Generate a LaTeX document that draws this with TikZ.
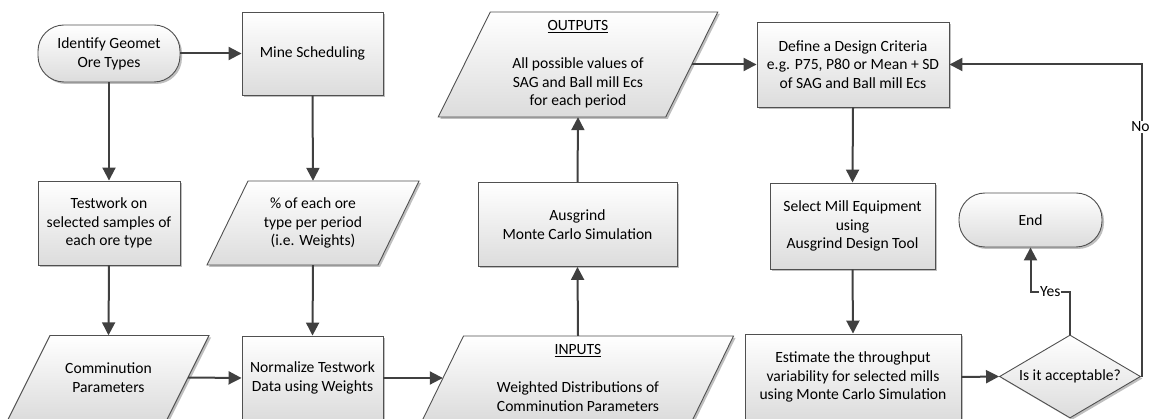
\documentclass[tikz,border=0pt]{standalone}
\usepackage{fontspec}
\setmainfont{Carlito}
\usetikzlibrary{arrows.meta,shapes.geometric,shadows,calc}
\definecolor{linecol}{HTML}{505050}
\definecolor{arrcol}{HTML}{404040}
\definecolor{shadebot}{HTML}{DCDCDC}
\tikzset{
  txt/.style={font=\fontsize{15.6}{18.7}\selectfont, align=center, inner sep=0pt},
  boxfill/.style={draw=linecol, line width=0.9pt, top color=white, bottom color=shadebot,
    drop shadow={shadow xshift=2pt, shadow yshift=-2pt, opacity=0.25, fill=black}},
  procbox/.style={txt, boxfill, rectangle},
  termbox/.style={txt, boxfill, rectangle, rounded corners=26pt},
  parabox/.style={txt, rectangle},
  decbox/.style={txt, boxfill, diamond, aspect=1.7},
  arr/.style={draw=arrcol, line width=2pt, -{Triangle[length=13pt,width=13pt]}},
  lbl/.style={fill=white, inner sep=1pt, font=\fontsize{15.6}{18}\selectfont},
}
% cx, cy, edge width, height, slant
\newcommand\paraoutline[5]{%
  \path[boxfill] ({#1-#3/2-#5/2},{#2+#4/2}) -- ({#1+#3/2-#5/2},{#2+#4/2})
    -- ({#1+#3/2+#5/2},{#2-#4/2}) -- ({#1-#3/2+#5/2},{#2-#4/2}) -- cycle;}
\begin{document}
\begin{tikzpicture}[x=1pt,y=-1pt]
\useasboundingbox (0,0) rectangle (1149,419);
\clip (0,0) rectangle (1149,419);

% terminals and process boxes
\node[termbox, minimum width=142pt, minimum height=57pt] (ident) at (109,53.5) {Identify Geomet\\Ore Types};
\node[procbox, minimum width=141pt, minimum height=83pt] (mine) at (312.5,53.5) {Mine Scheduling};
\node[procbox, minimum width=142pt, minimum height=84pt] (test) at (109,223) {Testwork on\\selected samples of\\each ore type};
\node[procbox, minimum width=141pt, minimum height=84pt] (norm) at (312.5,378) {Normalize Testwork\\Data using Weights};
\node[procbox, minimum width=199pt, minimum height=84pt] (ausg) at (577.5,224.5) {Ausgrind\\Monte Carlo Simulation};
\node[procbox, minimum width=192pt, minimum height=85pt] (def) at (853,64.5) {Define a Design Criteria\\e.g. P75, P80 or Mean + SD\\of SAG and Ball mill Ecs};
\node[procbox, minimum width=165pt, minimum height=86pt] (sel) at (852.5,226) {Select Mill Equipment\\using\\Ausgrind Design Tool};
\node[procbox, minimum width=216pt, minimum height=86pt] (est) at (853,377) {Estimate the throughput\\variability for selected mills\\using Monte Carlo Simulation};
\node[decbox, minimum width=141pt, minimum height=83pt] (dia) at (1070,376.5) {Is it acceptable?};
\node[termbox, minimum width=143pt, minimum height=54pt] (end) at (1030.5,220) {End};

% data (parallelogram) shapes
\paraoutline{313}{223}{171}{84}{41}
\node[parabox, minimum width=171pt, minimum height=84pt] (ore) at (313,223) {\% of each ore\\type per period\\(i.e. Weights)};
\paraoutline{108.5}{377.5}{159}{84}{42}
\node[parabox, minimum width=159pt, minimum height=84pt] (comm) at (108.5,377.5) {Comminution\\Parameters};
\paraoutline{578}{378}{270}{84}{41}
\node[parabox, minimum width=270pt, minimum height=84pt] (inp) at (578,378) {\underline{INPUTS}\\ \mbox{}\\Weighted Distributions of\\Comminution Parameters};
\paraoutline{578}{64.5}{227.5}{105}{52}
\node[parabox, minimum width=227.5pt, minimum height=105pt] (out) at (578,64.5) {\underline{OUTPUTS}\\ \mbox{}\\All possible values of\\SAG and Ball mill Ecs\\for each period};

% connectors
\draw[arr] (ident.east) -- (mine.west);
\draw[arr] (ident.south) -- (test.north);
\draw[arr] (mine.south) -- (ore.north);
\draw[arr] (test.south) -- (comm.north);
\draw[arr] (ore.south) -- (norm.north);
\draw[arr] (comm.east) -- (norm.west);
\draw[arr] (norm.east) -- (inp.west);
\draw[arr] (inp.north) -- (ausg.south);
\draw[arr] (ausg.north) -- (out.south);
\draw[arr] (out.east) -- (def.west);
\draw[arr] (def.south) -- (sel.north);
\draw[arr] (sel.south) -- (est.north);
\draw[arr] (est.east) -- (dia.west);
\coordinate (ybend) at ($(dia.north)+(0,-43)$);
\draw[arr] (dia.north) -- (ybend) -| node[pos=0.25, lbl] {Yes} (end.south);
\coordinate (nbend) at ($(dia.east)+(1.5,0)$);
\draw[arr] (dia.east) -- (nbend) |- node[pos=0.4, lbl, xshift=-2pt] {No} (def.east);
\end{tikzpicture}
\end{document}
